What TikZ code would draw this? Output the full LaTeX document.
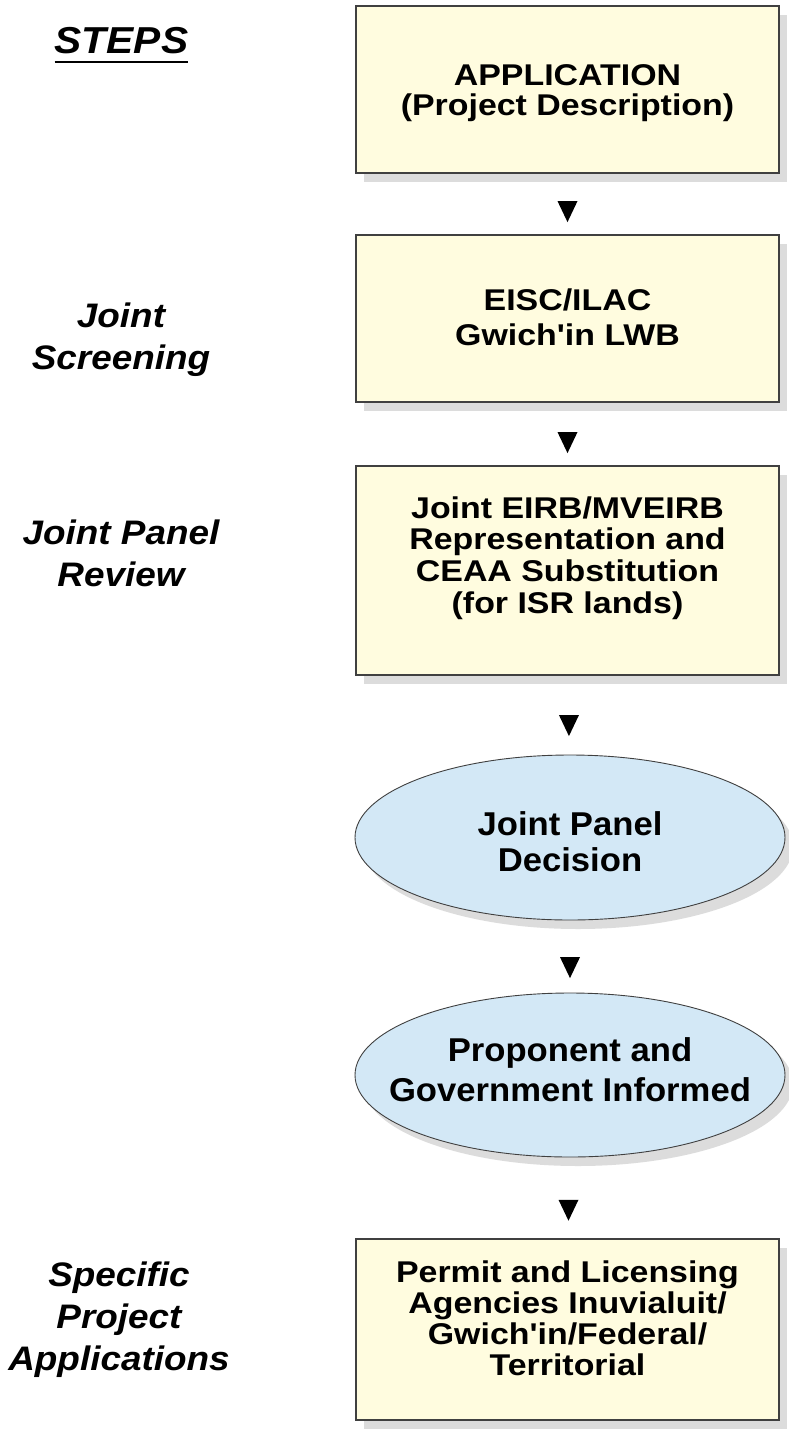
\documentclass[tikz,border=0pt]{standalone}
\usepackage{fontspec}
\setmainfont{Liberation Sans}
\newfontfamily\boxfont[FakeStretch=1.13]{Liberation Sans}
\newfontfamily\ovalfont[FakeStretch=1.05]{Liberation Sans}
\newfontfamily\sidefont[FakeStretch=1.085]{Liberation Sans}
\usetikzlibrary{shapes.geometric,shadows,calc}
\definecolor{boxfill}{HTML}{FFFCDF}
\definecolor{ovalfill}{HTML}{D3E8F6}
\definecolor{shadowgray}{HTML}{DCDCDC}
\definecolor{edgegray}{HTML}{404040}
\newcommand\firstln[1]{\rule{0pt}{#1pt}}
\newcommand\lastln[1]{\rule[-#1pt]{0pt}{#1pt}}
\begin{document}
\begin{tikzpicture}[x=1pt,y=-1pt,
  shade3d/.style={drop shadow={shadow xshift=8pt,shadow yshift=-9pt,fill=shadowgray,opacity=1}},
  stepbox/.style={rectangle, draw=edgegray, line width=1.1pt, fill=boxfill, shade3d,
    minimum width=423pt, inner sep=0pt, align=center,
    font=\boxfont\bfseries\fontsize{30}{#1}\selectfont},
  stepbox/.default=31.7,
  oval/.style={ellipse, draw=edgegray, line width=0.9pt, fill=ovalfill, shade3d,
    minimum width=430pt, inner sep=0pt},
  ovaltext/.style={inner sep=0pt, align=center,
    font=\ovalfont\bfseries\fontsize{33}{#1}\selectfont},
  sidetext/.style={inner sep=0pt, align=center,
    font=\sidefont\bfseries\itshape\fontsize{34}{42}\selectfont},
  tri/.style={isosceles triangle, isosceles triangle stretches, shape border rotate=-90,
    minimum width=20pt, minimum height=21pt, inner sep=0pt, fill=black, draw=none}
]
\path[fill=white, use as bounding box] (0,0) rectangle (789,1443);

% left column labels
\node[sidetext, font=\sidefont\bfseries\itshape\fontsize{37.5}{42}\selectfont] (steps) at (121.5,44) {\firstln{27}STEPS\lastln{9}};
\draw[line width=2pt] (steps.south west) -- (steps.south east);
\node[sidetext] (screen) at (121,340) {\firstln{26}Joint\\Screening\lastln{9}};
\node[sidetext] (review) at (121,556.5) {\firstln{26}Joint Panel\\Review\lastln{9}};
\node[sidetext] (specific) at (119,1319.5) {\firstln{26}Specific\\Project\\Applications\lastln{9}};

% flow
\node[stepbox=30, minimum height=167pt] (b1) at (567.5,89.5)
  {\firstln{28}APPLICATION\\(Project Description)\lastln{7}};
\node[stepbox=35, minimum height=167pt] (b2) at (567.5,318.5)
  {\firstln{25}EISC/ILAC\\Gwich'in LWB\lastln{7}};
\node[stepbox=31.7, minimum height=209pt] (b3) at (567.5,570.5)
  {\firstln{24}Joint EIRB/MVEIRB\\Representation and\\CEAA Substitution\\(for ISR lands)\lastln{33.4}};
\node[oval, minimum height=165pt] (e1) at (570,837.5) {};
\node[ovaltext=36.7] (e1t) at (e1.center) {\firstln{38.7}Joint Panel\\Decision\lastln{7}};
\node[oval, minimum height=164pt] (e2) at (570,1075) {};
\node[ovaltext=40] (e2t) at (e2.center) {\firstln{26.4}Proponent and\\Government Informed\lastln{13}};
\node[stepbox=30.7, minimum height=181pt] (b4) at (567.5,1329.5)
  {\firstln{24}Permit and Licensing\\Agencies Inuvialuit/\\Gwich'in/Federal/\\Territorial\lastln{25}};

% connectors (triangle markers)
\path (b1.south) -- node[tri, pos=0.556] (a1) {} (b2.north);
\path (b2.south) -- node[tri, pos=0.57] (a2) {} (b3.north);
\path (b3.south) -- node[tri, pos=0.58] (a3) {} (e1.north);
\path (e1.south) -- node[tri, pos=0.596] (a4) {} (e2.north);
\path (e2.south) -- node[tri, pos=0.6] (a5) {} (b4.north);
\end{tikzpicture}
\end{document}
